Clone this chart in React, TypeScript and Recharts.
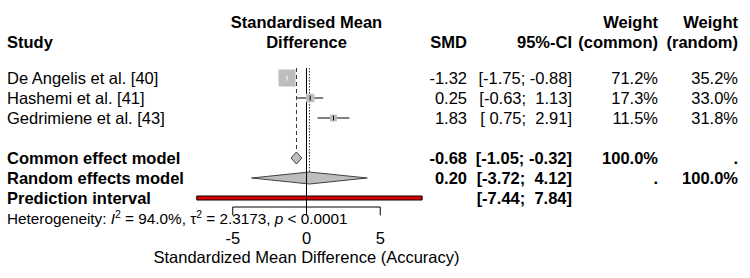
import React from 'react';
import {
  ComposedChart,
  XAxis,
  YAxis,
  Scatter,
  ErrorBar,
  ReferenceLine,
  ReferenceArea,
} from 'recharts';

// ---------- data ----------
const studies = ['De Angelis et al. [40]', 'Hashemi et al. [41]', 'Gedrimiene et al. [43]'];
const smd = [-1.32, 0.25, 1.83];
const ciLow = [-1.75, -0.63, 0.75];
const ciHigh = [-0.88, 1.13, 2.91];
const weightCommon = [71.2, 17.3, 11.5];
const weightRandom = [35.2, 33.0, 31.8];

// [estimate, lower, upper]
const commonModel = [-0.68, -1.05, -0.32];
const randomModel = [0.2, -3.72, 4.12];
const predictionInterval = [-7.44, 7.84];
// [I^2, tau^2, p]
const heterogeneity = ['94.0%', '2.3173', '< 0.0001'];
const xTicks = [-5, 0, 5];
const xAxisTitle = 'Standardized Mean Difference (Accuracy)';

// ---------- layout (rows in y-data units, columns in px) ----------
const ROW_HEAD1 = -2.8;
const ROW_HEAD2 = -1.8;
const ROW_COMMON = 4;
const ROW_RANDOM = 5;
const ROW_PRED = 6;
const ROW_HET = 7;
const ROW_AXIS = 6.45;
const ROW_TICKLAB = 8;
const ROW_TITLE = 8.95;
const ROW_TOP = -0.5;

const COL_STUDY = 7;
const COL_SMD = 467;
const COL_CI = 572;
const COL_WC = 658;
const COL_WR = 738;

const FONT = '"Liberation Sans", Arial, Helvetica, sans-serif';
const FS = 16.5;
const FS_HET = 15.3;
const BASE = 5.8;
const SQUARE_FILL = '#bdbdbd';
const CI_COLORS = ['#ffffff', '#000000', '#000000'];

const f2 = (v: number) => v.toFixed(2);
const ciStr = (lo: number, hi: number) => `[${f2(lo).padStart(5, ' ')}; ${f2(hi).padStart(5, ' ')}]`;
const pct = (v: number) => `${v.toFixed(1)}%`;

type TextRowData = {
  x: number;
  y: number;
  bold?: boolean;
  study?: string;
  smd?: string;
  ci?: string;
  wc?: string;
  wr?: string;
  center?: string;
};

const textRows: TextRowData[] = [
  { x: 0, y: ROW_HEAD1, bold: true, center: 'Standardised Mean', wc: 'Weight', wr: 'Weight' },
  {
    x: 0,
    y: ROW_HEAD2,
    bold: true,
    study: 'Study',
    center: 'Difference',
    smd: 'SMD',
    ci: '95%-CI',
    wc: '(common)',
    wr: '(random)',
  },
  ...studies.map((s, i) => ({
    x: 0,
    y: i,
    study: s,
    smd: f2(smd[i]),
    ci: ciStr(ciLow[i], ciHigh[i]),
    wc: pct(weightCommon[i]),
    wr: pct(weightRandom[i]),
  })),
  {
    x: 0,
    y: ROW_COMMON,
    bold: true,
    study: 'Common effect model',
    smd: f2(commonModel[0]),
    ci: ciStr(commonModel[1], commonModel[2]),
    wc: '100.0%',
    wr: '.',
  },
  {
    x: 0,
    y: ROW_RANDOM,
    bold: true,
    study: 'Random effects model',
    smd: f2(randomModel[0]),
    ci: ciStr(randomModel[1], randomModel[2]),
    wc: '.',
    wr: '100.0%',
  },
  {
    x: 0,
    y: ROW_PRED,
    bold: true,
    study: 'Prediction interval',
    ci: ciStr(predictionInterval[0], predictionInterval[1]),
  },
];

const studyPoints = studies.map((s, i) => ({
  x: smd[i],
  y: i,
  w: weightCommon[i],
  err: [smd[i] - ciLow[i], ciHigh[i] - smd[i]],
}));

const tickLabelPoints = xTicks.map((t) => ({ x: t, y: ROW_TICKLAB, label: String(t) }));

const XMIN = -306.5 / 14.75;
const XMAX = 443.5 / 14.75;

const preStyle: React.CSSProperties = { whiteSpace: 'pre' };

const TextRowShape = (p: any) => {
  const d: TextRowData = p.payload;
  const y = p.cy + BASE;
  return (
    <g fontFamily={FONT} fontSize={FS} fontWeight={d.bold ? 'bold' : 'normal'} fill="#000">
      {d.study && (
        <text x={COL_STUDY} y={y}>
          {d.study}
        </text>
      )}
      {d.center && (
        <text x={p.cx} y={y} textAnchor="middle">
          {d.center}
        </text>
      )}
      {d.smd && (
        <text x={COL_SMD} y={y} textAnchor="end">
          {d.smd}
        </text>
      )}
      {d.ci && (
        <text x={COL_CI} y={y} textAnchor="end" style={preStyle} xmlSpace="preserve">
          {d.ci}
        </text>
      )}
      {d.wc && (
        <text x={COL_WC} y={y} textAnchor="end">
          {d.wc}
        </text>
      )}
      {d.wr && (
        <text x={COL_WR} y={y} textAnchor="end">
          {d.wr}
        </text>
      )}
    </g>
  );
};

const HetShape = (p: any) => {
  const y = p.cy + BASE;
  return (
    <text x={COL_STUDY} y={y} fontFamily={FONT} fontSize={FS_HET} fill="#000" style={preStyle} xmlSpace="preserve">
      <tspan>Heterogeneity: </tspan>
      <tspan fontStyle="italic">I</tspan>
      <tspan fontSize={10.5} dy={-6}>2</tspan>
      <tspan dy={6}>{` = ${heterogeneity[0]}, τ`}</tspan>
      <tspan fontSize={10.5} dy={-6}>2</tspan>
      <tspan dy={6}>{` = ${heterogeneity[1]}, `}</tspan>
      <tspan fontStyle="italic">p</tspan>
      <tspan>{` ${heterogeneity[2]}`}</tspan>
    </text>
  );
};

const TickLabelShape = (p: any) => (
  <text x={p.cx} y={p.cy + BASE} textAnchor="middle" fontFamily={FONT} fontSize={FS} fill="#000">
    {p.payload.label}
  </text>
);

const TitleShape = (p: any) => (
  <text x={p.cx} y={p.cy + BASE} textAnchor="middle" fontFamily={FONT} fontSize={FS} fill="#000">
    {xAxisTitle}
  </text>
);

const SquareShape = (p: any) => {
  const s = 2.015 * Math.sqrt(p.payload.w);
  return <rect x={p.cx - s / 2} y={p.cy - s / 2} width={s} height={s} fill={SQUARE_FILL} />;
};

const makeTickShape = (color: string) => (p: any) =>
  <line x1={p.cx} x2={p.cx} y1={p.cy - 2.5} y2={p.cy + 2.5} stroke={color} strokeWidth={1} />;

const makeDiamond = (model: number[]) => (p: any) => {
  const frac = (model[0] - model[1]) / (model[2] - model[1]);
  const { x, y, width, height } = p;
  const mx = x + width * frac;
  const my = y + height / 2;
  const pts = `${x},${my} ${mx},${y} ${x + width},${my} ${mx},${y + height}`;
  return <polygon points={pts} fill={SQUARE_FILL} stroke="#404040" strokeWidth={1} />;
};

export default function App() {
  return (
    <div style={{ position: 'absolute', left: 0, top: 0, background: '#fff' }}>
      <ComposedChart width={750} height={278} margin={{ top: 0, right: 0, bottom: 0, left: 0 }}>
        <XAxis type="number" dataKey="x" domain={[XMIN, XMAX]} allowDataOverflow hide />
        <YAxis type="number" dataKey="y" domain={[-3.9, 10]} allowDataOverflow reversed hide />

        {/* diamonds */}
        <ReferenceArea
          x1={commonModel[1]}
          x2={commonModel[2]}
          y1={ROW_COMMON - 0.3}
          y2={ROW_COMMON + 0.3}
          shape={makeDiamond(commonModel)}
        />
        <ReferenceArea
          x1={randomModel[1]}
          x2={randomModel[2]}
          y1={ROW_RANDOM - 0.3}
          y2={ROW_RANDOM + 0.3}
          shape={makeDiamond(randomModel)}
        />

        {/* reference lines */}
        <ReferenceLine
          segment={[
            { x: commonModel[0], y: ROW_TOP },
            { x: commonModel[0], y: ROW_COMMON - 0.3 },
          ]}
          stroke="#333"
          strokeDasharray="4 3"
        />
        <ReferenceLine
          segment={[
            { x: randomModel[0], y: ROW_TOP },
            { x: randomModel[0], y: ROW_RANDOM - 0.3 },
          ]}
          stroke="#333"
          strokeDasharray="1.5 1.5"
        />
        <ReferenceLine
          segment={[
            { x: 0, y: ROW_TOP },
            { x: 0, y: ROW_AXIS },
          ]}
          stroke="#000"
        />

        {/* prediction interval */}
        <ReferenceArea
          x1={predictionInterval[0]}
          x2={predictionInterval[1]}
          y1={ROW_PRED - 0.1}
          y2={ROW_PRED + 0.1}
          fill="#e00000"
          fillOpacity={1}
          stroke="#000"
          strokeWidth={1}
        />

        {/* axis */}
        <ReferenceLine
          segment={[
            { x: xTicks[0], y: ROW_AXIS },
            { x: xTicks[xTicks.length - 1], y: ROW_AXIS },
          ]}
          stroke="#000"
        />
        {xTicks.map((t) => (
          <ReferenceLine
            key={`tick-${t}`}
            segment={[
              { x: t, y: ROW_AXIS },
              { x: t, y: ROW_AXIS + 0.42 },
            ]}
            stroke="#000"
          />
        ))}

        {/* study squares */}
        <Scatter data={studyPoints} shape={SquareShape} isAnimationActive={false} />
        {/* study confidence intervals */}
        {studyPoints.map((pt, i) => (
          <Scatter
            key={`ci-${i}`}
            data={[pt]}
            shape={makeTickShape(CI_COLORS[i])}
            isAnimationActive={false}
          >
            <ErrorBar dataKey="err" direction="x" width={0} stroke={CI_COLORS[i]} strokeWidth={1} isAnimationActive={false} />
          </Scatter>
        ))}

        {/* texts */}
        <Scatter data={textRows} shape={TextRowShape} isAnimationActive={false} />
        <Scatter data={[{ x: 0, y: ROW_HET }]} shape={HetShape} isAnimationActive={false} />
        <Scatter data={tickLabelPoints} shape={TickLabelShape} isAnimationActive={false} />
        <Scatter data={[{ x: 0, y: ROW_TITLE }]} shape={TitleShape} isAnimationActive={false} />
      </ComposedChart>
    </div>
  );
}
